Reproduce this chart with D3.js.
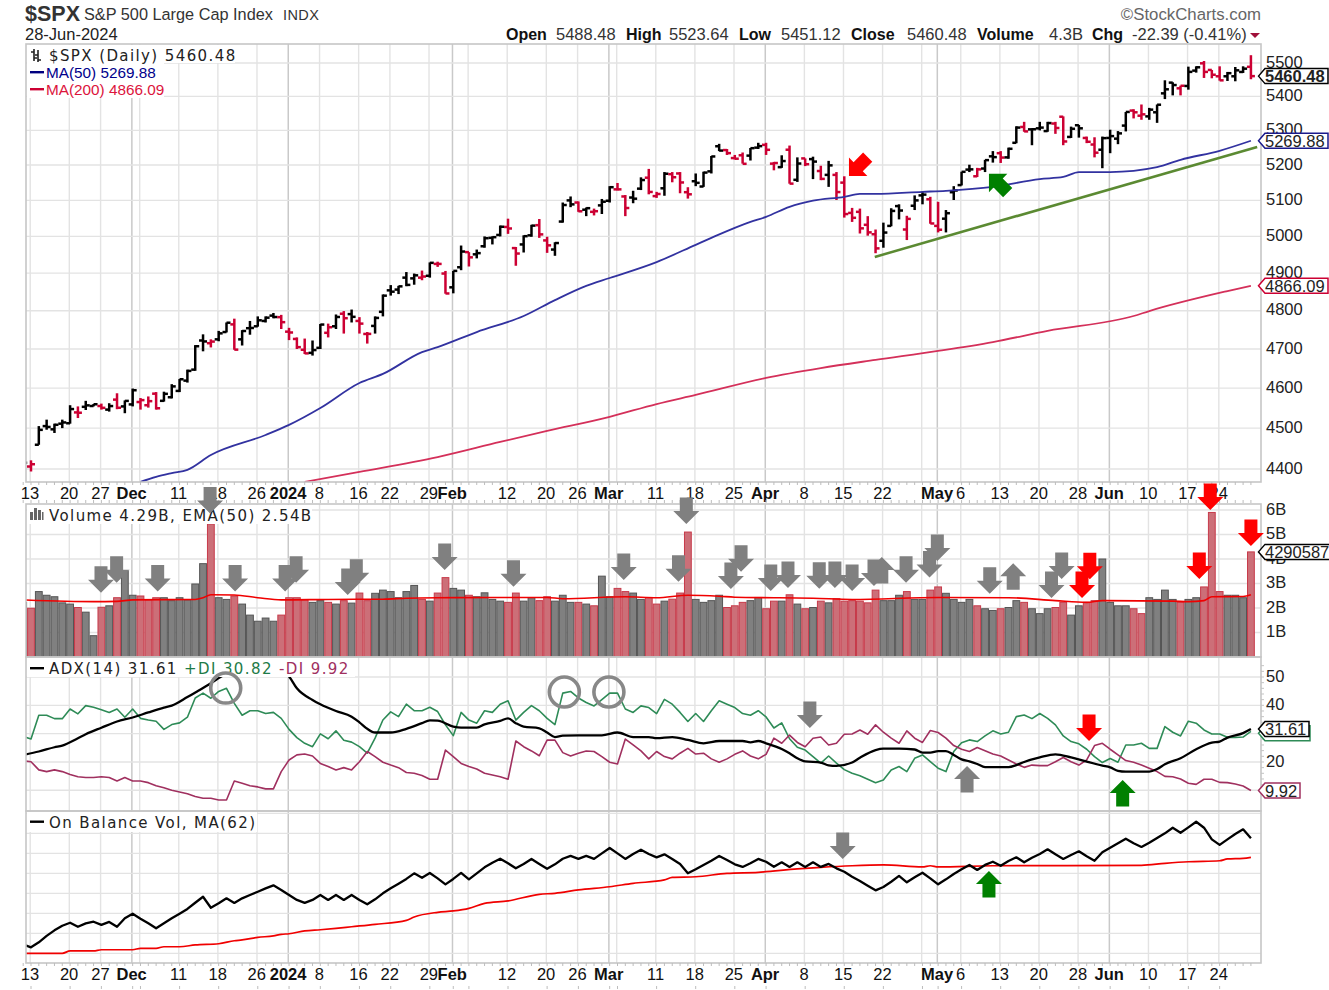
<!DOCTYPE html>
<html><head><meta charset="utf-8">
<script src="https://cdn.jsdelivr.net/npm/d3@7/dist/d3.min.js"></script>
<style>
html,body{margin:0;padding:0;background:#fff;overflow:hidden}
svg{display:block}
text{font-family:"Liberation Sans",Arial,sans-serif;fill:#222}
.lg{font-family:"DejaVu Sans",sans-serif;font-size:15px;letter-spacing:1.4px}
</style></head><body><svg id="c" width="1329" height="990"></svg>
<script>
// ---- data: array position 0 is the bar before 13 Nov, then one value per trading day to 28 Jun 2024
const opens=[4364,4406,4459,4505,4497,4511,4512,4539,4553,4555,
4555,4546,4571,4554,4559,4565,4557,4586,4568,4577,
4593,4619,4647,4722,4715,4725,4744,4764,4725,4754,
4759,4773,4787,4783,4745,4726,4698,4690,4703,4742,
4759,4792,4791,4773,4739,4760,4797,4854,4856,4888,
4886,4888,4893,4925,4899,4862,4916,4957,4951,4973,
4996,5004,5026,4968,4978,5003,5031,4989,4964,5041,
5100,5094,5074,5068,5086,5099,5131,5111,5108,5133,
5164,5112,5134,5174,5176,5123,5154,5139,5182,5254,
5243,5220,5228,5227,5250,5258,5204,5194,5244,5158,
5219,5217,5183,5172,5172,5150,5065,5068,5032,5006,
4988,5029,5084,5019,5085,5114,5103,5029,5049,5123,
5143,5187,5168,5190,5225,5234,5222,5264,5310,5303,
5306,5298,5320,5340,5281,5315,5278,5259,5244,5278,
5276,5314,5358,5343,5341,5353,5409,5441,5424,5431,
5477,5499,5479,5460,5460,5460,5473,5488.48];
const highs=[4418,4421,4505,4521,4511,4521,4557,4554,4568,4560,
4561,4562,4587,4569,4599,4575,4579,4590,4591,4610,
4623,4647,4710,4738,4725,4747,4769,4779,4749,4773,
4785,4785,4794,4789,4755,4730,4727,4722,4765,4766,
4790,4799,4803,4783,4744,4785,4843,4868,4866,4903,
4899,4907,4929,4931,4906,4906,4975,4957,4964,5000,
5000,5030,5049,4971,5003,5032,5048,4999,4984,5094,
5111,5097,5080,5077,5104,5140,5149,5115,5127,5165,
5189,5124,5180,5180,5180,5137,5176,5181,5226,5261,
5246,5229,5236,5249,5264,5264,5209,5228,5256,5222,
5219,5224,5198,5212,5180,5168,5079,5077,5056,5019,
5038,5078,5089,5057,5114,5124,5110,5096,5073,5140,
5181,5201,5192,5215,5240,5240,5250,5312,5325,5306,
5325,5325,5325,5341,5311,5316,5282,5280,5282,5302,
5298,5354,5362,5376,5366,5376,5448,5442,5432,5489,
5490,5506,5479,5490,5473,5488,5490,5523.64];
const lows=[4353,4394,4459,4496,4488,4500,4511,4525,4545,4554,
4546,4541,4547,4537,4554,4546,4551,4546,4566,4574,
4590,4614,4644,4694,4704,4720,4743,4698,4709,4737,
4758,4769,4780,4752,4723,4700,4687,4683,4700,4730,
4752,4740,4769,4740,4714,4740,4785,4840,4844,4865,
4869,4881,4888,4917,4845,4846,4908,4918,4940,4969,
4978,5000,5007,4920,4956,4999,4996,4955,4947,5038,
5081,5068,5056,5058,5062,5094,5128,5056,5092,5129,
5117,5107,5113,5151,5120,5105,5140,5138,5176,5240,
5229,5216,5204,5213,5246,5229,5185,5192,5147,5152,
5197,5160,5157,5138,5101,5052,5040,5008,5002,4954,
4969,5028,5047,4990,5073,5089,5035,5011,5011,5101,
5142,5180,5166,5180,5207,5206,5218,5263,5296,5257,
5300,5296,5290,5257,5278,5279,5263,5222,5191,5234,
5260,5297,5335,5331,5331,5322,5392,5403,5403,5420,
5471,5455,5454,5447,5446,5445,5470,5451.12];
const closes=[4415,4411.55,4495.7,4502.88,4508.24,4514.02,4547.38,4538.19,4556.62,4559.34,
4550.43,4554.89,4550.58,4567.8,4594.63,4569.78,4567.18,4549.34,4585.59,4604.37,
4622.44,4643.7,4707.09,4719.55,4719.19,4740.56,4768.37,4698.35,4746.75,4754.63,
4774.75,4781.58,4783.35,4769.83,4742.83,4704.81,4688.68,4697.24,4763.54,4756.5,
4783.45,4780.24,4783.83,4765.98,4739.21,4780.94,4839.81,4850.43,4864.6,4868.55,
4894.16,4890.97,4927.93,4924.97,4845.65,4906.19,4958.61,4942.81,4954.23,4995.06,
4997.91,5026.61,5021.84,4953.17,5000.62,5029.73,5005.57,4975.51,4981.8,5087.03,
5088.8,5069.53,5078.18,5069.76,5096.27,5137.08,5130.95,5078.65,5104.76,5157.36,
5123.69,5117.94,5175.27,5165.31,5150.48,5117.09,5149.42,5178.51,5224.62,5241.53,
5234.18,5218.19,5203.58,5248.49,5254.35,5243.77,5205.81,5211.49,5147.21,5204.34,
5202.39,5209.91,5160.64,5199.06,5123.41,5061.82,5051.41,5022.21,5011.12,4967.23,
5010.6,5070.55,5071.63,5048.42,5099.96,5116.17,5035.69,5018.39,5064.2,5127.79,
5180.74,5187.7,5187.67,5214.08,5222.68,5221.42,5246.68,5308.15,5297.1,5303.27,
5308.13,5321.41,5307.01,5267.84,5304.72,5306.04,5266.95,5235.48,5277.51,5283.4,
5291.34,5354.03,5352.96,5346.99,5360.79,5375.32,5421.03,5433.74,5431.6,5473.23,
5487.03,5473.17,5464.62,5447.87,5469.3,5477.9,5482.87,5460.48];
const ma50Bars=[14,16,18,20,23,30,33,37,42,45,50,52,57,63,67,71,74,80,85,87,92,94,97,100,104,106,108,114,117,123,129,132,134,138,144,147,152,156];
const ma50Vals=[4369,4381,4390,4398,4434,4483,4508,4550,4613,4636,4692,4705,4744,4786,4828,4866,4887,4930,4977,4996,5040,5054,5082,5099,5110,5118,5118,5124,5127,5138,5160,5166,5180,5180,5194,5215,5241,5269.88];
const ma200Bars=[35,42,52,60,66,74,80,85,94,101,108,116,123,130,141,143,153,156];
const ma200Vals=[4369,4393,4429,4466,4493,4528,4560,4583,4626,4651,4672,4695,4718,4747,4786,4799,4852,4866.09];
const volumes=[2.23,1.99,2.67,2.52,2.46,2.21,2.16,2.02,1.83,0.87,
2.03,2.09,2.42,3.5,2.52,2.49,2.33,2.42,2.42,2.3,
2.42,2.33,2.98,3.81,5.43,2.42,2.35,2.49,2.16,1.71,
1.46,1.59,1.46,1.71,2.42,2.42,2.33,2.23,2.3,2.23,
2.16,2.3,2.2,2.61,2.3,2.6,2.73,2.67,2.42,2.67,
2.92,2.35,2.28,2.61,3.24,2.8,2.73,2.52,2.46,2.62,
2.35,2.28,2.23,2.61,2.28,2.42,2.3,2.46,2.28,2.52,
2.23,2.23,2.16,2.09,3.3,2.46,2.8,2.67,2.61,2.35,
2.43,2.16,2.28,2.36,2.61,5.1,2.35,2.23,2.3,2.52,
2.02,2.09,2.23,2.3,2.43,1.97,2.28,2.28,2.54,2.16,
1.97,2.02,2.28,2.21,2.38,2.28,2.3,2.28,2.21,2.73,
2.3,2.3,2.52,2.67,2.35,2.35,2.73,2.86,2.6,2.35,
2.23,2.35,2.09,1.97,1.9,1.97,2.02,2.3,2.23,1.97,
1.77,1.97,2.02,2.23,1.71,2.09,2.23,2.3,4.0,2.23,
2.09,2.09,1.97,1.77,2.42,2.35,2.73,2.35,2.23,2.35,
2.42,2.86,5.9,2.67,2.52,2.52,2.42,4.29];
const emaBars=[-1,8,11,13,21,22,23,26,29,32,38,45,48,52,60,66,68,76,80,84,88,90,95,100,105,116,125,131,135,137,146,148,150,151,155,156];
const emaVals=[2.33,2.26,2.27,2.33,2.35,2.42,2.54,2.53,2.42,2.33,2.35,2.36,2.4,2.42,2.43,2.43,2.38,2.46,2.42,2.52,2.48,2.44,2.42,2.4,2.35,2.43,2.42,2.3,2.23,2.3,2.28,2.26,2.3,2.46,2.47,2.54];
const plusDI=[29,28.1,36.5,36.5,35.3,35.3,38.7,37,39.9,39.3,
38.4,37.5,38.7,35.8,38.7,35.4,34.8,34.4,31.5,33.2,
33.8,35.8,42.6,44.3,42.5,44.9,46,40.7,36.5,38.1,
38.1,37.1,37.5,35.4,31.5,28.6,26.6,25.4,29.9,28.2,
31,27.7,27,25.4,23.1,28.4,34.8,37.7,36,40.4,
38.1,38.1,39.3,37.8,33.1,29.3,37.5,34.8,33.7,38.1,
37.5,40.4,41.6,34.8,37.5,39.9,38.1,35.4,33.2,44.3,
44.9,42.6,41,39.8,42,44.3,44.3,38.7,37.5,39.8,
39.2,37.1,42.1,40.4,37.5,34.3,37.1,34.3,38.1,41.6,
40.4,39.2,37.1,36.5,38.1,35.9,32,33.8,28.2,25.2,
24.2,21.9,19.6,22.1,19.6,17.3,16,15.1,13.9,12.7,
13.6,17.2,18.4,16.6,21.3,22.5,20.1,17.8,16.6,23.7,
26.8,27.8,27.2,29.2,31,29.9,30.5,36,36.6,35.3,
37.1,35.4,33.1,29.2,27.2,26.4,24.5,21.9,19.8,21.2,
19.9,26,26,26.6,24.8,24.8,32.5,30.5,29.2,34.4,
33.7,31.3,29.9,29.9,28.7,28.7,28.8,30.82];
const minusDI=[20.4,20.1,17.2,16.6,17.2,16.6,15.6,14.8,14.5,14.5,
14.8,14.5,13.3,14.5,13.3,13.3,12.7,11.6,10.9,10,
9.4,8.8,7.8,7.2,7.2,6.6,6.6,13.3,12.5,11.6,
11.2,10.5,10.5,16.6,20.7,22.5,22.8,22.1,19.5,18.4,
17.2,18,17.2,20.1,23.7,21.9,19.9,18.9,18,16.3,
16,15.2,13.9,13.9,24.2,21.9,19.5,18.4,17.5,16,
15.4,14.8,13.9,27.4,25.4,23.9,22.2,27.7,27.7,23.3,
22.1,23.1,23.9,23.7,21.9,19.9,19.3,28.1,26,23.9,
21.1,23.7,21.9,21.1,23.1,24.8,22.8,23.1,21.1,19.9,
21.1,22.7,23.9,22.1,21.1,22.7,28.4,26.6,29.5,26.9,
25.4,28.4,28.8,26,26.6,29.8,29.9,31.3,29.8,33.1,
30.5,28.4,26.6,31,28.4,26.9,31.1,30.4,28.4,25.8,
24.5,23.7,25.1,24,22.8,22.1,20.7,19.3,18.1,18.9,
18.7,18.7,20.1,21.6,20.1,18.9,20.7,25.8,26.6,24.5,
22.5,20.5,19.9,18.9,17.8,16.6,14.9,14.8,14,12.5,
12.1,13.9,13.9,12.8,12.7,12.2,11.5,9.92];
const adxBars=[-1,1,3,4,6,7,9,11,13,15,17,18,20,21,23,24,26,29,31,33,34,36,37,39,41,42,43,44,46,48,50,51,52,54,55,57,58,60,61,62,63,65,66,67,68,70,73,75,77,79,80,82,84,86,88,91,92,93,94,96,97,98,99,101,102,103,105,106,108,109,111,113,114,115,116,117,118,119,120,121,122,125,126,127,129,131,133,135,137,138,139,140,143,144,145,147,149,151,152,153,155,156];
const adxVals=[22.5,23.7,25.2,25.8,28.4,29.8,32.1,34.3,35.7,37.5,39.2,39.9,42.9,44.5,47.8,49.6,52.5,54.5,53.5,50.2,46,41.9,40.4,38,36,34,31.7,30.4,30.4,31.7,33.7,34.7,34.6,32.5,32.1,32.1,33.3,34.5,35.4,33.7,32.5,31.9,30.4,28.8,29.3,29.4,29.4,30.4,28.8,28.8,28.4,28.8,27.8,26.6,27.4,27.4,26.9,27.4,26.6,24.6,23.1,21.3,20.2,19.8,18.8,18.6,19.8,21.5,24.2,24.7,24.7,24.4,23.3,23.3,23.8,23.8,22.5,20.9,20.2,19.3,18.2,18.2,18.9,20,21.6,22.7,21.6,20.1,18.7,18.1,16.9,16.6,16.6,17.5,19.2,21.3,24.5,26.8,27.2,28.6,30.2,31.61];
const obv=[4.5,3,5.5,8.7,11.5,13.8,15.3,13.3,15,15.8,
14.2,15.7,13.3,17.5,19.8,17.3,15,12.5,15,17.5,
19.8,22.2,25.3,28.3,22.8,25,27.5,25.2,27.5,29.2,
30.8,32.5,34,31.7,29.2,26.7,25.2,26.7,29.2,26.7,
29.2,26.7,29.2,26.7,24.5,27,30,32.5,34.8,37.2,
40,37.8,40.2,37.5,34.5,37.2,40.2,37,40,43,
45.3,47.3,45,42.5,44.7,47.2,44.7,42.3,44.5,47.3,
48.7,47.2,48.7,47.2,50,52.7,50,47.2,49.7,51.8,
49.7,48,49.5,47.2,44.7,40,42,44.2,46.3,48.7,
46.7,44.5,43.2,45,47.2,45.8,43.3,45.5,43.2,45.5,
43.2,45.5,43.2,44.7,42.5,40.8,38.3,36.2,33.8,31.5,
33.2,35.8,38.7,35.5,38,40.3,37.5,34.5,37,39.7,
42,44.2,41.7,44.2,45.8,43.8,46.2,48,45.5,47.8,
49.7,52,49.5,47.2,49.2,51,48.5,46.3,50.5,52.8,
55,57.3,55,53.2,55.3,57.7,60,62.8,60.3,63,
65.8,62.8,57,54.2,57,59.7,62,57.5];
const obvMaBars=[-1,4,5,8,9,13,14,16,17,19,21,24,26,27,29,31,32,33,35,37,39,41,44,48,49,52,54,56,58,61,65,67,70,74,77,81,82,85,89,93,98,101,105,109,114,115,116,123,142,145,148,152,153,155,156];
const obvMaVals=[0,0,1.2,1.2,1.8,1.8,2.5,2.5,3.3,3.3,4.2,4.8,6.3,6.7,8,8.7,9.5,9.8,11.2,11.8,12.5,13.3,14.5,16.5,18.2,20.5,21.2,22.5,25,26.2,29.5,30,31.7,33.3,35,36.7,38,38.3,40,40.5,42.2,43,43.8,44.2,43.2,43.8,43.2,43.8,44,45,45.8,46.3,47.2,47.5,48];
const trendBars=[107.9,156.8];
const trendVals=[4944,5252];
const tickBars=[0,5,9,13,19,24,29,33,37,42,46,51,54,61,66,70,74,80,85,90,94,99,104,109,116,119,124,129,134,138,143,148,152];
const tickLabels=["13","20","27","Dec","11","18","26","2024","8","16","22","29","Feb","12","20","26","Mar","11","18","25","Apr","8","15","22","May","6","13","20","28","Jun","10","17","24"];
const boldLabels=["Dec","2024","Feb","Mar","Apr","May","Jun"];
const weekGrid=[0,5,9,14,19,24,29,37,42,46,51,56,61,66,70,75,80,85,90,99,104,109,114,119,124,129,134,143,148,152];
const monthGrid=[13,33,54,74,94,116,138];
const priceTicks=[5500,5400,5300,5200,5100,5000,4900,4800,4700,4600,4500,4400];
const volTicks=[1,2,3,4,5,6];
const adxTicks=[10,20,30,40,50];
const adxLabels=[20,40,50];
const obvGrid=[0,10,20,30,40,50,60,70];
// annotation anchors: [bar, value, colour, direction]
const mainMarks=[[104.6,5169,"#ff0000",45],[122.5,5175,"#008000",135]];
const volMarks=[[8.95,2.62,"#808080",0],[10.95,3.03,"#808080",0],[16.2,2.67,"#808080",0],[26.1,2.67,"#808080",0],[22.9,5.86,"#808080",0],[32.5,2.67,"#808080",0],[33.9,3.03,"#808080",0],[40.5,2.53,"#808080",0],[41.6,2.91,"#808080",0],[52.9,3.55,"#808080",0],[61.7,2.87,"#808080",0],[75.8,3.14,"#808080",0],[82.8,3.07,"#808080",0],[83.8,5.43,"#808080",0],[89.5,2.78,"#808080",0],[90.8,3.48,"#808080",0],[94.6,2.69,"#808080",0],[96.8,2.82,"#808080",0],[100.8,2.79,"#808080",0],[102.8,2.82,"#808080",0],[105,2.69,"#808080",0],[107.8,2.9,"#808080",0],[108.8,4.08,"#808080",180],[111.9,3.03,"#808080",0],[114.9,3.25,"#808080",0],[115.9,3.92,"#808080",0],[122.6,2.58,"#808080",0],[125.6,3.83,"#808080",180],[130.5,2.41,"#808080",0],[131.8,3.18,"#808080",0],[134.4,2.41,"#ff0000",0],[135.4,3.17,"#ff0000",0],[149.4,3.18,"#ff0000",0],[150.8,6,"#ff0000",0],[156,4.53,"#ff0000",0]];
const adxMarks=[[99.6,32,"#808080",0],[119.7,18.6,"#808080",180],[135.3,27.4,"#ff0000",0],[139.6,13.6,"#008000",180]];
const adxCircles=[[24.9,46.1],[68.2,44.7],[73.9,44.7]];
const obvMarks=[[103.8,47.2,"#808080",0],[122.5,41.2,"#008000",180]];

// ---- scales
const L=26,R=1261;
const P={main:[44,482],vol:[504,657],adx:[657,811],obv:[811,963]};
const x=d3.scaleLinear().domain([-1,156]).range([23.18,1250.92]);
const yP=d3.scaleLog().domain([4400,5500]).range([469,63]);
const yV=d3.scaleLinear().domain([0,6]).range([657,510]);
const yA=d3.scaleLinear().domain([10,50]).range([790.3,677]);
const yO=d3.scaleLinear().domain([0,70]).range([953.33,813.33]);
const svg=d3.select("#c");
const bars=closes.map((c,i)=>({bar:i-1,o:opens[i],h:highs[i],l:lows[i],c,v:volumes[i],
  down:i>0?c<closes[i-1]:false}));
const defs=svg.append("defs");
Object.entries(P).forEach(([k,[a,b]])=>defs.append("clipPath").attr("id","clip-"+k).append("rect").attr("x",L).attr("y",a).attr("width",R-L).attr("height",b-a));
const pair=(xs,ys)=>xs.map((b,i)=>[b,ys[i]]);

// ---- grid, per panel
Object.entries(P).forEach(([k,[a,b]])=>{
  const g=svg.append("g");
  g.selectAll("line.w").data(weekGrid).join("line").attr("x1",d=>x(d)-.8).attr("x2",d=>x(d)-.8).attr("y1",a).attr("y2",b).attr("stroke","#e3e3e3").attr("stroke-width",1.4);
  g.selectAll("line.m").data(monthGrid).join("line").attr("x1",d=>x(d)-.8).attr("x2",d=>x(d)-.8).attr("y1",a).attr("y2",b).attr("stroke","#c9c9c9").attr("stroke-width",1.5);
});
const hGrid=(vals,sc)=>svg.append("g").selectAll("line").data(vals).join("line").attr("x1",L).attr("x2",R).attr("y1",d=>sc(d)).attr("y2",d=>sc(d)).attr("stroke","#e3e3e3").attr("stroke-width",1.4);
hGrid(priceTicks,yP);hGrid(volTicks,yV);hGrid(adxTicks,yA);hGrid(obvGrid,yO);

// ---- price bars
const gp=svg.append("g").attr("clip-path","url(#clip-main)");
const barG=gp.selectAll("g").data(bars).join("g").attr("stroke",d=>d.down?"#cc0033":"#000").attr("stroke-width",2.5).attr("fill","none");
barG.append("line").attr("x1",d=>x(d.bar)).attr("x2",d=>x(d.bar)).attr("y1",d=>yP(d.h)).attr("y2",d=>yP(d.l));
barG.append("line").attr("x1",d=>x(d.bar)-4).attr("x2",d=>x(d.bar)).attr("y1",d=>yP(d.o)).attr("y2",d=>yP(d.o));
barG.append("line").attr("x1",d=>x(d.bar)).attr("x2",d=>x(d.bar)+4).attr("y1",d=>yP(d.c)).attr("y2",d=>yP(d.c));
const line=(sc,smooth)=>{const l=d3.line().x(d=>x(d[0])).y(d=>sc(d[1]));return smooth?l.curve(d3.curveMonotoneX):l;};
const drawLine=(g,pts,sc,col,w,smooth)=>g.append("path").attr("d",line(sc,smooth)(pts)).attr("fill","none").attr("stroke",col).attr("stroke-width",w).attr("stroke-linejoin","round");
drawLine(gp,pair(ma50Bars,ma50Vals),yP,"#3232a0",1.8,true);
drawLine(gp,pair(ma200Bars,ma200Vals),yP,"#d4305a",1.8,true);
svg.append("path").attr("d",line(yP)(pair(trendBars,trendVals))).attr("stroke","#5b8a32").attr("stroke-width",2.6).attr("fill","none");

// ---- volume
const gv=svg.append("g").attr("clip-path","url(#clip-vol)");
gv.selectAll("rect").data(bars).join("rect")
 .attr("x",d=>x(d.bar)-3.4).attr("width",6.8).attr("y",d=>yV(d.v)).attr("height",d=>657-yV(d.v)+2)
 .attr("fill",d=>d.down?"#cc6f78":"#808080").attr("stroke",d=>d.down?"#c73a4a":"#555").attr("stroke-width",1);
drawLine(gv,pair(emaBars,emaVals),yV,"#f00000",1.6,true);

// ---- ADX
const ga=svg.append("g").attr("clip-path","url(#clip-adx)");
drawLine(ga,plusDI.map((v,i)=>[i-1,v]),yA,"#2e8b57",1.6);
drawLine(ga,minusDI.map((v,i)=>[i-1,v]),yA,"#a0305f",1.6);
drawLine(ga,pair(adxBars,adxVals),yA,"#000",2.3,true);

// ---- OBV
const go=svg.append("g").attr("clip-path","url(#clip-obv)");
drawLine(go,pair(obvMaBars,obvMaVals),yO,"#f00000",1.7,true);
drawLine(go,obv.map((v,i)=>[i-1,v]),yO,"#000",2.3);

// ---- panel borders
[[44,482],[504,657],[657,811],[811,963]].forEach(([a,b])=>svg.append("rect").attr("x",L).attr("y",a).attr("width",R-L).attr("height",b-a).attr("fill","none").attr("stroke","#c6c6c6").attr("stroke-width",1.6));

// ---- date axes
[[482,503],[963,985]].forEach(([a,b],n)=>{
  const ax=d3.axisBottom(x).tickValues(tickBars).tickSize(0).tickPadding(0).tickFormat((d,i)=>tickLabels[i]);
  const g=svg.append("g").attr("transform",`translate(-1.5,${a})`).call(ax);
  g.select(".domain").remove();
  g.selectAll("text").attr("dy",0).attr("y",17).attr("font-size",16.5)
    .attr("font-family",'"Liberation Sans",Arial,sans-serif').style("fill","#111")
    .attr("font-weight",(d,i)=>boldLabels.includes(tickLabels[i])?"bold":"normal");
  const t=svg.append("g").attr("stroke","#bdbdbd").attr("stroke-width",1);
  t.selectAll("line.t").data(bars).join("line").attr("x1",d=>x(d.bar)).attr("x2",d=>x(d.bar)).attr("y1",a).attr("y2",a+3);
  if(n===0) t.append("g").selectAll("line").data(bars).join("line").attr("x1",d=>x(d.bar)).attr("x2",d=>x(d.bar)).attr("y1",b-3).attr("y2",b);
  else t.append("g").selectAll("line").data(weekGrid.concat(monthGrid)).join("line").attr("x1",d=>x(d)).attr("x2",d=>x(d)).attr("y1",986).attr("y2",989);
});

// ---- right axes
const rAxis=(sc,vals,fmt)=>{
  const g=svg.append("g").attr("transform",`translate(1266,-1)`).call(d3.axisRight(sc).tickValues(vals).tickSize(0).tickPadding(0).tickFormat(fmt));
  g.select(".domain").remove();
  g.selectAll("text").attr("font-size",16.5).attr("font-family",'"Liberation Sans",Arial,sans-serif').style("fill","#222");
};
rAxis(yP,priceTicks,d=>d);
rAxis(yV,volTicks,d=>d+"B");
rAxis(yA,adxLabels,d=>d);
const mt=svg.append("g").attr("stroke","#c4c4c4");
mt.selectAll("line").data(d3.range(10,56,2)).join("line").attr("x1",R).attr("x2",R+3).attr("y1",d=>yA(d)).attr("y2",d=>yA(d));

// ---- legends with white backing
const bg=(x0,y0,w,h)=>svg.append("rect").attr("x",x0).attr("y",y0).attr("width",w).attr("height",h).attr("fill","#fff");
const lg=(t,x0,y0,col)=>svg.append("text").attr("class","lg").attr("x",x0).attr("y",y0).style("fill",col).text(t);
const key=(y0,col)=>svg.append("rect").attr("x",30).attr("y",y0).attr("width",14).attr("height",2.4).attr("fill",col);
bg(27,45,208,18);bg(27,63,137,35);
// OHLC glyph
const gl=svg.append("g").attr("stroke","#222").attr("stroke-width",1.6).attr("fill","none");
gl.append("path").attr("d","M34,49V61M31,52H34M34,58H37M38,50V62M35,55H38M38,60H41");
lg("$SPX (Daily) 5460.48",49,61,"#222");
key(71,"#000080");key(88,"#cc0033");
svg.append("text").attr("x",46).attr("y",78).attr("font-size",15.3).style("fill","#00008b").text("MA(50) 5269.88");
svg.append("text").attr("x",46).attr("y",95).attr("font-size",15.3).style("fill","#dc143c").text("MA(200) 4866.09");
bg(27,505,285,19);
svg.append("path").attr("d","M30,520V512h3v8zM34,520V508h3v12zM38,520V510h3v10zM42,520V512h1.5v8z").attr("fill","#666");
lg("Volume 4.29B, EMA(50) 2.54B",49,521,"#222");
bg(27,658,328,19);
key(667,"#000");
lg("ADX(14) 31.61",49,674,"#222");
lg("+DI 30.82",184,674,"#1e7b47");
lg("-DI 9.92",279,674,"#a0305f");
bg(27,812,230,20);
key(820.5,"#000");
lg("On Balance Vol, MA(62)",49,828,"#222");

// ---- annotations
const arrow="M0,0L-13,-13L-6.5,-13L-6.5,-26.5L6.5,-26.5L6.5,-13L13,-13Z";
const drawMarks=(marks,sc)=>svg.append("g").selectAll("path").data(marks).join("path").attr("d",arrow)
 .attr("fill",d=>d[2]).attr("transform",d=>`translate(${x(d[0])},${sc(d[1])}) rotate(${d[3]})`);
drawMarks(volMarks,yV);drawMarks(mainMarks,yP);drawMarks(adxMarks,yA);drawMarks(obvMarks,yO);
svg.append("g").selectAll("circle").data(adxCircles).join("circle").attr("cx",d=>x(d[0])).attr("cy",d=>yA(d[1])).attr("r",15).attr("fill","none").attr("stroke","#888").attr("stroke-width",3.6);

// ---- right-hand value tags
const tags=[
 [yP(5269.88),"5269.88","#1a1a8c",1328,false],
 [yP(4866.09),"4866.09","#cc0033",1328,false],
 [yP(5460.48),"5460.48","#000",1328,true],
 [yV(4.290587),"4290587","#000",1330,false],
 [yA(30.82)+2,"","#2e8b57",1310,false],
 [yA(31.61),"31.61","#000",1309,false],
 [yA(9.92),"9.92","#a0305f",1300,false]];
const tg=svg.append("g").selectAll("g").data(tags).join("g");
tg.append("path").attr("d",d=>`M1258.5,${d[0]}L1265,${d[0]-7.5}H${d[3]}V${d[0]+7.5}H1265Z`).attr("fill","#fff").attr("stroke",d=>d[2]).attr("stroke-width",1.5);
tg.filter(d=>d[1]).append("text").attr("x",1265).attr("y",d=>d[0]+6).attr("font-size",16.5).attr("font-weight",d=>d[4]?"bold":"normal").style("fill","#222").text(d=>d[1]);

// ---- header
const tx=(t,x0,y0,fs,w,col)=>svg.append("text").attr("x",x0).attr("y",y0).attr("font-size",fs).attr("font-weight",w||"normal").style("fill",col||"#222").text(t);
tx("$SPX",25,21,21.5,"bold","#333");
tx("S&P 500 Large Cap Index",84,20,16.3,"normal","#333");
tx("INDX",283,20,14.5,"normal","#333").style("letter-spacing","0.4px");
tx("28-Jun-2024",25,40,16.5,"normal","#222");
[["Open",506,1],["5488.48",556,0],["High",626,1],["5523.64",669,0],["Low",739,1],["5451.12",781,0],["Close",851,1],["5460.48",907,0],["Volume",977,1],["4.3B",1049,0],["Chg",1092,1],["-22.39 (-0.41%)",1132,0]]
 .forEach(([t,x0,b])=>tx(t,x0,40,b?16:16.5,b?"bold":"normal",b?"#111":"#333"));
svg.append("path").attr("d","M1250,33H1260L1255,38Z").attr("fill","#a0103a");
tx("©StockCharts.com",1261,20,16.8,"normal","#666").attr("text-anchor","end");
</script></body></html>
